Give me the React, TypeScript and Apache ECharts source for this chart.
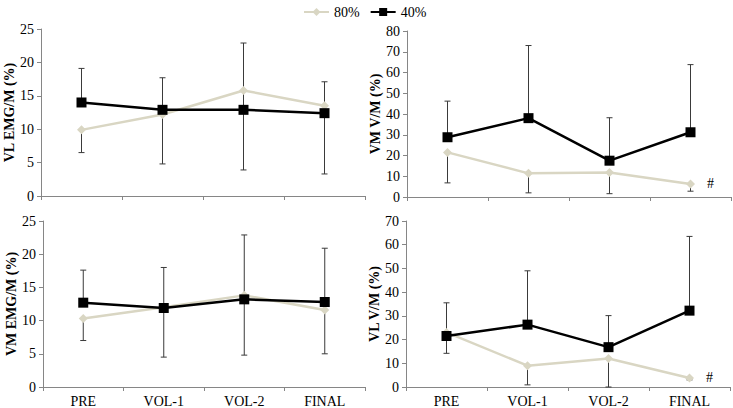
import React, { useEffect, useRef } from "react";
import * as echarts from "echarts";

const categories = ["PRE", "VOL-1", "VOL-2", "FINAL"];

// Panel 1: VL EMG/M (%)
const vlEmg80 = [9.9, 12.2, 15.8, 13.5];
const vlEmg40 = [14.0, 12.9, 12.9, 12.4];
const vlEmg40Upper = [19.1, 17.7, 22.9, 17.1];
const vlEmg80Lower = [6.5, 4.8, 3.9, 3.3];

// Panel 2: VM V/M (%)
const vmVm80 = [21.5, 11.4, 11.8, 6.3];
const vmVm40 = [28.8, 38.0, 17.5, 31.2];
const vmVm40Upper = [46.2, 73.0, 38.2, 63.8];
const vmVm80Lower = [6.8, 2.0, 1.6, 2.8];

// Panel 3: VM EMG/M (%)
const vmEmg80 = [10.3, 12.0, 13.8, 11.6];
const vmEmg40 = [12.7, 11.9, 13.2, 12.8];
const vmEmg40Upper = [17.6, 18.0, 22.9, 20.9];
const vmEmg80Lower = [7.0, 4.5, 4.8, 5.0];

// Panel 4: VL V/M (%)
const vlVm80 = [23.0, 9.0, 12.0, 3.8];
const vlVm40 = [21.5, 26.3, 16.8, 32.2];
const vlVm40Upper = [35.5, 49.0, 30.1, 63.5];
const vlVm80Lower = [14.2, 0.9, 0, 3.0];

const panels = [
  { name: "VL EMG/M (%)", max: 25, interval: 5, s80: vlEmg80, s40: vlEmg40, up: vlEmg40Upper, lo: vlEmg80Lower, hash: false, xLabels: false },
  { name: "VM V/M (%)", max: 80, interval: 10, s80: vmVm80, s40: vmVm40, up: vmVm40Upper, lo: vmVm80Lower, hash: true, xLabels: false },
  { name: "VM EMG/M (%)", max: 25, interval: 5, s80: vmEmg80, s40: vmEmg40, up: vmEmg40Upper, lo: vmEmg80Lower, hash: false, xLabels: true },
  { name: "VL V/M (%)", max: 70, interval: 10, s80: vlVm80, s40: vlVm40, up: vlVm40Upper, lo: vlVm80Lower, hash: true, xLabels: true },
];

const FONT = "Liberation Serif";
const C80 = "#D9D6C3";
const C40 = "#000000";
const AXIS = "#868686";
const ERR = "#3A3A3A";

const grids = [
  { left: 41, top: 29, width: 324, height: 167 },
  { left: 407, top: 31, width: 324, height: 166 },
  { left: 43, top: 221, width: 322, height: 166 },
  { left: 406, top: 221, width: 324, height: 166 },
];

function errRender(params: any, api: any) {
  const x = api.value(0);
  const p0 = api.coord([x, api.value(1)]);
  const p1 = api.coord([x, api.value(2)]);
  const cap = 3;
  return {
    type: "group",
    children: [
      { type: "line", shape: { x1: p0[0], y1: p0[1], x2: p1[0], y2: p1[1] }, style: { stroke: ERR, lineWidth: 1 } },
      { type: "line", shape: { x1: p1[0] - cap, y1: p1[1], x2: p1[0] + cap, y2: p1[1] }, style: { stroke: ERR, lineWidth: 1 } },
    ],
  };
}

export default function App() {
  const ref = useRef<HTMLDivElement>(null);
  useEffect(() => {
    if (!ref.current) return;
    const chart = echarts.init(ref.current, undefined, { renderer: "svg" });
    const xAxis: any[] = [];
    const yAxis: any[] = [];
    const series: any[] = [];
    panels.forEach((p, i) => {
      xAxis.push({
        type: "category",
        gridIndex: i,
        data: categories,
        boundaryGap: true,
        axisLine: { lineStyle: { color: AXIS, width: 1 } },
        axisTick: { show: true, length: 4, lineStyle: { color: AXIS } },
        axisLabel: { show: p.xLabels, color: "#000", fontFamily: FONT, fontSize: 14, margin: 7 },
        splitLine: { show: false },
      });
      yAxis.push({
        type: "value",
        gridIndex: i,
        min: 0,
        max: p.max,
        interval: p.interval,
        name: p.name,
        nameLocation: "middle",
        nameGap: 25,
        nameRotate: 90,
        nameTextStyle: { color: "#000", fontFamily: FONT, fontSize: 14, fontWeight: "bold" },
        axisLine: { show: true, lineStyle: { color: AXIS, width: 1 } },
        axisTick: { show: true, length: 4, lineStyle: { color: AXIS } },
        axisLabel: { color: "#000", fontFamily: FONT, fontSize: 14, margin: 7 },
        splitLine: { show: false },
      });
      series.push({
        type: "custom",
        name: "err40_" + i,
        xAxisIndex: i,
        yAxisIndex: i,
        renderItem: errRender,
        data: p.s40.map((v, k) => [k, v, p.up[k]]),
        z: 1,
        silent: true,
      });
      series.push({
        type: "custom",
        name: "err80_" + i,
        xAxisIndex: i,
        yAxisIndex: i,
        renderItem: errRender,
        data: p.s80.map((v, k) => [k, v, p.lo[k]]),
        z: 1,
        silent: true,
      });
      series.push({
        type: "line",
        name: "80%",
        xAxisIndex: i,
        yAxisIndex: i,
        data: p.s80.map((v, k) =>
          p.hash && k === p.s80.length - 1
            ? { value: v, label: { show: true, formatter: "#", position: "right", distance: 12, color: "#000", fontFamily: FONT, fontSize: 14 } }
            : v
        ),
        symbol: "diamond",
        symbolSize: 9,
        lineStyle: { color: C80, width: 2.5 },
        itemStyle: { color: C80 },
        z: 2,
      });
      series.push({
        type: "line",
        name: "40%",
        xAxisIndex: i,
        yAxisIndex: i,
        data: p.s40,
        symbol: "rect",
        symbolSize: 10,
        lineStyle: { color: C40, width: 2.5 },
        itemStyle: { color: C40 },
        z: 3,
      });
    });
    chart.setOption({
      animation: false,
      backgroundColor: "#fff",
      legend: {
        data: ["80%", "40%"],
        top: 0,
        left: 298,
        itemWidth: 25,
        itemHeight: 10,
        itemGap: 10,
        textStyle: { color: "#000", fontFamily: FONT, fontSize: 14 },
      },
      grid: grids,
      xAxis,
      yAxis,
      series,
    });
    return () => chart.dispose();
  }, []);
  return <div ref={ref} style={{ position: "fixed", left: 0, top: 0, width: 733, height: 408 }} />;
}
